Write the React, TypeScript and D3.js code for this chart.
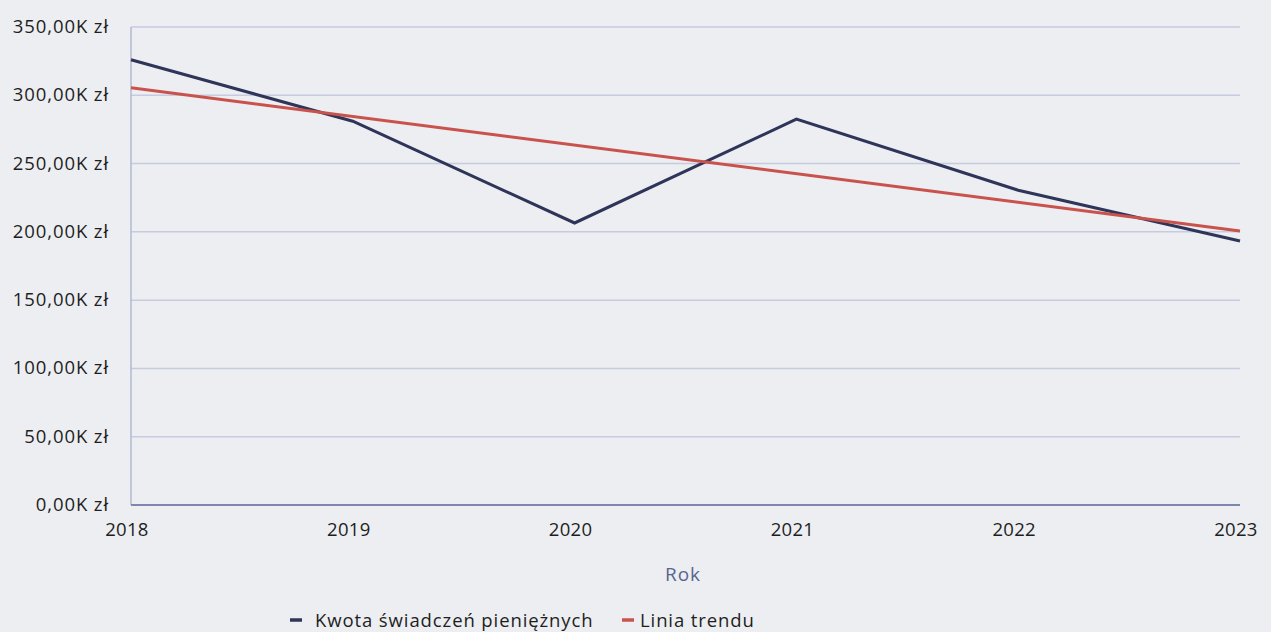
import React from "react";
import * as d3 from "d3";

const years = ["2018", "2019", "2020", "2021", "2022", "2023"];
const amounts = [326, 281, 206.5, 282.5, 230.5, 193.3]; // thousands zł
const trendYears = ["2018", "2023"];
const trendValues = [305.5, 200.6];
const yTicks = [0, 50, 100, 150, 200, 250, 300, 350];
const seriesNames = ["Kwota świadczeń pieniężnych", "Linia trendu"];
const axisTitle = "Rok";

const W = 1271;
const H = 632;
const FONT = "'Open Sans', 'Noto Sans', sans-serif";
const NAVY = "#2f3459";
const RED = "#c9534c";
const LS = 0.9;

export default function App() {
  const x = d3.scalePoint<string>().domain(years).range([131, 1240]);
  const y = d3.scaleLinear().domain([0, 350]).range([505, 27]);
  const fmt = (v: number) => d3.format(".2f")(v).replace(".", ",") + "K zł";

  const line = d3
    .line<number>()
    .x((_, i) => x(years[i]) as number)
    .y((d) => y(d));
  const trendLine = d3
    .line<number>()
    .x((_, i) => x(trendYears[i]) as number)
    .y((d) => y(d));

  return (
    <div style={{ position: "fixed", left: 0, top: 0, width: W, height: H, background: "#eceef2" }}>
      <svg width={W} height={H} style={{ display: "block", fontFamily: FONT }}>
        <rect x={0} y={0} width={W} height={H} fill="#eceef2" />
        {yTicks.filter((t) => t > 0).map((t) => (
          <line key={t} x1={131} x2={1240} y1={y(t)} y2={y(t)} stroke="#c7cbdf" strokeWidth={1.5} />
        ))}
        <line x1={131} x2={131} y1={y(350)} y2={y(0)} stroke="#b4b9d3" strokeWidth={1.5} />
        <line x1={131} x2={1240} y1={y(0)} y2={y(0)} stroke="#7e87ad" strokeWidth={2} />
        {yTicks.map((t) => (
          <text key={t} x={109} y={y(t) + 6} textAnchor="end" fontSize={18.5} letterSpacing={LS} fill="#1e1e22">
            {fmt(t)}
          </text>
        ))}
        {years.map((yr) => (
          <text key={yr} x={(x(yr) as number) - 4} y={536} textAnchor="middle" fontSize={18.5} letterSpacing={0.3} fill="#1e1e22">
            {yr}
          </text>
        ))}
        <path d={line(amounts) || ""} fill="none" stroke={NAVY} strokeWidth={3} strokeLinejoin="miter" />
        <path d={trendLine(trendValues) || ""} fill="none" stroke={RED} strokeWidth={3} />
        <text x={683} y={581} textAnchor="middle" fontSize={19} letterSpacing={LS} fill="#5a6490">
          {axisTitle}
        </text>
        <g>
          <line x1={290} x2={302} y1={620} y2={620} stroke={NAVY} strokeWidth={3.5} />
          <text x={315} y={627} fontSize={18.5} letterSpacing={LS} fill="#1e1e22">
            {seriesNames[0]}
          </text>
          <line x1={622} x2={634} y1={620} y2={620} stroke={RED} strokeWidth={3.5} />
          <text x={640} y={627} fontSize={18.5} letterSpacing={LS} fill="#1e1e22">
            {seriesNames[1]}
          </text>
        </g>
      </svg>
    </div>
  );
}
